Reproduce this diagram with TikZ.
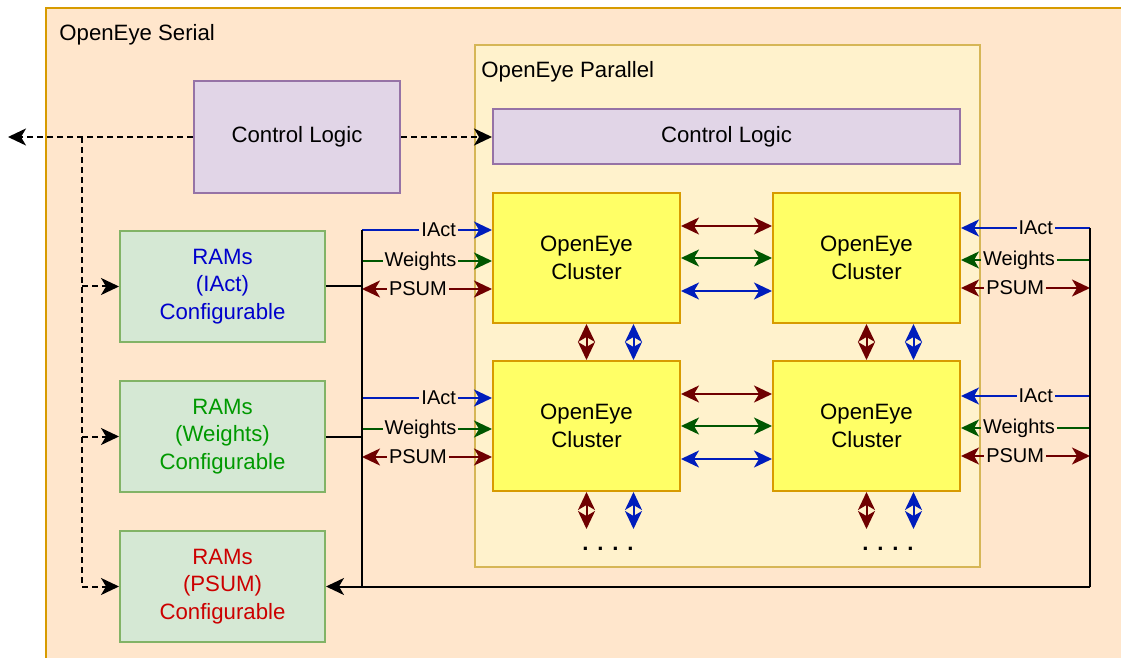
\documentclass[tikz,border=0pt]{standalone}
\usepackage{fontspec}
\setmainfont{Liberation Sans}
\usetikzlibrary{arrows.meta}
\usetikzlibrary{positioning}

\definecolor{serialfill}{HTML}{FFE6CC}
\definecolor{serialdraw}{HTML}{D79B00}
\definecolor{parfill}{HTML}{FFF2CC}
\definecolor{pardraw}{HTML}{D6B656}
\definecolor{ctrlfill}{HTML}{E1D5E7}
\definecolor{ctrldraw}{HTML}{9673A6}
\definecolor{clfill}{HTML}{FFFF66}
\definecolor{cldraw}{HTML}{D79B00}
\definecolor{ramfill}{HTML}{D5E8D4}
\definecolor{ramdraw}{HTML}{82B366}
\definecolor{iactc}{HTML}{001DBC}
\definecolor{wgtc}{HTML}{005700}
\definecolor{psumc}{HTML}{6F0000}
\definecolor{iactt}{HTML}{0000CC}
\definecolor{wgtt}{HTML}{009900}
\definecolor{psumt}{HTML}{CC0000}

\tikzset{
  >={Stealth[length=9pt,width=8.5pt,inset=2.5pt]},
  box/.style={draw, rectangle, line width=1pt, align=center, inner sep=0pt,
    font=\fontsize{11.1}{13.7}\selectfont},
  container/.style={draw, rectangle, line width=1pt, inner sep=0pt},
  cluster/.style={box, draw=cldraw, fill=clfill, minimum width=93.5pt, minimum height=65pt},
  ram/.style={box, draw=ramdraw, fill=ramfill, minimum width=102.5pt, minimum height=55.5pt},
  ctrl/.style={box, draw=ctrldraw, fill=ctrlfill},
  title/.style={anchor=base west, inner sep=0pt, font=\fontsize{11.1}{13.7}\selectfont},
  lbl/.style={fill=serialfill, inner sep=1pt, text=black, font=\fontsize{10}{12}\selectfont},
  dots/.style={inner sep=0pt, font=\fontsize{11.1}{13.7}\selectfont\bfseries},
  iact/.style={draw=iactc, line width=1pt},
  wgt/.style={draw=wgtc, line width=1pt},
  psum/.style={draw=psumc, line width=1pt},
  bus/.style={draw=black, line width=1pt},
  ctl/.style={draw=black, line width=1pt, dash pattern=on 3pt off 2pt},
}

\begin{document}
\begin{tikzpicture}[x=0.5pt,y=0.5pt]
  \useasboundingbox (0,0) rectangle (1121,-658);

  % Containers
  \node[container, draw=serialdraw, fill=serialfill, anchor=north west,
    minimum width=560pt, minimum height=340pt] (serial) at (45,-7) {} ; %
  \node[title] (serialT) at (59,-41) {OpenEye Serial} ; %
  \node[container, draw=pardraw, fill=parfill, anchor=north west,
    minimum width=252.5pt, minimum height=261pt] (par) at (474,-44) {} ; %
  \node[title] (parT) at (481,-78) {OpenEye Parallel} ; %

  % Nodes
  \node[ctrl, minimum width=103pt, minimum height=56pt] (ctrlS) at (297,-137) {Control Logic} ; %

  \node[cluster]                     (c11) at (586.5,-258) {OpenEye\\Cluster} ; %
  \node[cluster, right=45.5pt of c11] (c12) {OpenEye\\Cluster} ; %
  \node[cluster, below=18pt of c11]   (c21) {OpenEye\\Cluster} ; %
  \node[cluster, right=45.5pt of c21] (c22) {OpenEye\\Cluster} ; %

  \node[ctrl, anchor=south west, minimum width=233.5pt, minimum height=27.5pt]
    (ctrlP) at ([yshift=13.5pt]c11.north west) {Control Logic} ; %

  \node[ram, text=iactt]                    (ram1) at (222.5,-286.5) {RAMs\\(IAct)\\Configurable} ; %
  \node[ram, text=wgtt, below=18.5pt of ram1] (ram2) {RAMs\\(Weights)\\Configurable} ; %
  \node[ram, text=psumt, below=18.5pt of ram2] (ram3) {RAMs\\(PSUM)\\Configurable} ; %

  \coordinate (ext)  at (8,0);
  \coordinate (dbus) at (82,0);
  \coordinate (lbus) at (362,0);
  \coordinate (rbus) at (1090,0);

  % Control signals
  \draw[ctl,->] (ctrlS.west) -- (ctrlS.west -| ext);
  \draw[ctl,->] (ctrlS.east) -- (ctrlS.east -| ctrlP.west);
  \draw[ctl] (ctrlS.west -| dbus) -- (ram3.west -| dbus);
  \foreach \r in {ram1,ram2,ram3}
    \draw[ctl,->] (\r.west -| dbus) -- (\r.west);

  % Cluster inputs, left side
  \foreach \cl in {c11,c21}{
    \coordinate (\cl i) at ([yshift=14pt]\cl.west);
    \coordinate (\cl w) at ([yshift=-1.5pt]\cl.west);
    \coordinate (\cl p) at ([yshift=-15.5pt]\cl.west);
    \draw[iact,->] (\cl i -| lbus) -- node[lbl,pos=.59] {IAct} (\cl i);
    \draw[wgt,->] (\cl w -| lbus) -- node[lbl,pos=.45] {Weights} (\cl w);
    \draw[psum,<->] (\cl p -| lbus) -- node[lbl,pos=.43] {PSUM} (\cl p);
  }

  % Cluster inputs, right side
  \foreach \cl in {c12,c22}{
    \coordinate (\cl i) at ([yshift=15pt]\cl.east);
    \coordinate (\cl w) at ([yshift=-1pt]\cl.east);
    \coordinate (\cl p) at ([yshift=-15pt]\cl.east);
    \draw[iact,->] (\cl i -| rbus) -- node[lbl,pos=.42] {IAct} (\cl i);
    \draw[wgt,->] (\cl w -| rbus) -- node[lbl,pos=.55] {Weights} (\cl w);
    \draw[psum,<->] (\cl p -| rbus) -- node[lbl,pos=.58] {PSUM} (\cl p);
  }

  % Buses
  \draw[bus] (ram1.east) -- (ram1.east -| lbus);
  \draw[bus] (ram2.east) -- (ram2.east -| lbus);
  \draw[bus] (c11i -| lbus) -- (ram3.east -| lbus);
  \draw[bus] (c12i -| rbus) -- (ram3.east -| rbus);
  \draw[bus,->] (ram3.east -| rbus) -- (ram3.east);

  % Between clusters
  \foreach \a/\b in {c11/c12,c21/c22}{
    \draw[psum,<->] ([yshift=16pt]\a.east) -- ([yshift=16pt]\b.west);
    \draw[wgt,<->] (\a.east) -- (\b.west);
    \draw[iact,<->] ([yshift=-16.5pt]\a.east) -- ([yshift=-16.5pt]\b.west);
  }
  \foreach \a/\b in {c11/c21,c12/c22}{
    \draw[psum,<->] (\a.south) -- (\b.north);
    \draw[iact,<->] ([xshift=23.5pt]\a.south) -- ([xshift=23.5pt]\b.north);
  }

  % More clusters below
  \foreach \a in {c21,c22}{
    \coordinate (\a d) at ([yshift=-18.5pt]\a.south);
    \draw[psum,<->] (\a.south) -- (\a d);
    \draw[iact,<->] ([xshift=23.5pt]\a.south) -- ([xshift=23.5pt]\a d);
    \node[dots, anchor=base] (\a m) at ([xshift=10.75pt,yshift=-29pt]\a.south)
      {.\hspace{4.4pt}.\hspace{4.4pt}.\hspace{4.4pt}.} ; %
  }

\end{tikzpicture}
\end{document}
